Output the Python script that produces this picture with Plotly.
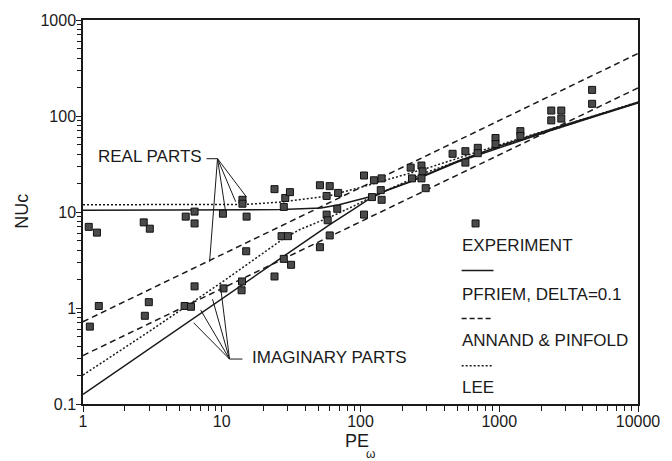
import plotly.graph_objects as go

# ---------------- data ----------------
# Experiment (real parts)
exp_re_pe = [1.1, 1.26, 2.74, 3.03, 5.5, 6.37, 6.37, 10.2, 14.1, 14.1, 15.1,
             24, 28.7, 31, 28, 51, 60, 57, 69, 68, 57, 58,
             106, 125, 142, 140, 121, 142, 230, 275, 280, 275, 235,
             461, 570, 700, 700, 940, 940, 1420, 1420, 2370, 2800, 4670]
exp_re_nu = [7.0, 6.1, 7.8, 6.7, 8.95, 10.1, 7.6, 9.6, 13.4, 12.2, 8.95,
             17.3, 14.0, 16.1, 11.3, 19.0, 18.6, 14.7, 15.8, 10.8, 9.4, 8.2,
             24.0, 21.4, 22.4, 16.9, 14.3, 13.4, 29.0, 30.5, 26.5, 22.4, 22.4,
             40.4, 43.0, 46.6, 41.0, 59.0, 51.0, 69.5, 62.0, 114, 114, 187]
# Experiment (imaginary parts)
exp_im_pe = [1.12, 1.3, 2.98, 2.79, 5.4, 6.0, 6.37, 10.3, 14.0, 13.9, 15.0,
             24, 28, 31.6, 27, 30, 51, 60, 106, 295, 570, 2370, 2800, 4670]
exp_im_nu = [0.64, 1.05, 1.15, 0.83, 1.05, 1.03, 1.68, 1.6, 1.89, 1.53, 3.9,
             2.13, 3.25, 2.82, 5.6, 5.6, 4.3, 5.7, 9.4, 17.7, 32.7, 90, 94, 134]

# Pfriem, delta = 0.1 (solid)
pfr_re_pe = [1, 10, 27, 52, 70, 115, 224, 500, 1000, 2260, 5000, 10000]
pfr_re_nu = [10.4, 10.5, 10.6, 11.0, 11.9, 14.3, 20.4, 33.1, 46.6, 69.5, 100, 137]
pfr_im_pe = [1, 10, 30, 60, 90, 115, 160, 224, 500, 1000, 2260, 5000, 10000]
pfr_im_nu = [0.126, 1.25, 3.75, 7.4, 10.8, 13.6, 17.2, 20.6, 33.8, 48.5, 71.5, 101, 138]

# Annand & Pinfold (dashed)
ann_pe = [1, 10, 100, 1000, 10000]
ann_re_nu = [0.72, 3.6, 18.0, 90.0, 448]
ann_im_nu = [0.32, 1.59, 7.9, 39.6, 196]

# Lee (dotted)
lee_re_pe = [1, 10, 15, 27, 59, 102, 168, 300, 1000, 2370, 5000, 10000]
lee_re_nu = [11.9, 11.9, 12.0, 12.7, 14.7, 18.2, 22.4, 28.5, 50, 73, 102, 140]
lee_im_pe = [1, 3, 10, 28, 36, 62, 90, 115, 168, 300, 1000, 2370, 5000, 10000]
lee_im_nu = [0.2, 0.57, 1.85, 5.3, 6.5, 9.0, 11.6, 13.9, 17.8, 26.0, 47.5, 71, 101, 139]

x_ticks = [1, 10, 100, 1000, 10000]
x_ticktext = ["1", "10", "100", "1000", "10000"]
y_ticks = [0.1, 1, 10, 100, 1000]
y_ticktext = ["0.1", "1", "10", "100", "1000"]

legend_labels = ["EXPERIMENT", "PFRIEM, DELTA=0.1", "ANNAND & PINFOLD", "LEE"]

# leader-line anchor points (data coordinates)
real_apex = (9.32, 35.9)
real_tick = (7.77, 35.9)
real_targets = [(8.17, 3.03), (10.6, 10.6), (12.6, 12.8), (15.1, 14.3)]
imag_apex = (11.37, 0.294)
imag_tick = (14.1, 0.294)
imag_targets = [(6.27, 0.702), (7.04, 0.954), (8.58, 1.236), (9.8, 1.68)]

# ---------------- figure ----------------
FONT = "Liberation Sans, Arial, Helvetica, sans-serif"
INK = "#1a1a1a"
fig = go.Figure()

def curve(x, y, dash):
    fig.add_trace(go.Scatter(x=x, y=y, mode="lines",
                             line=dict(color=INK, width=1.5, dash=dash),
                             hoverinfo="skip", showlegend=False))

curve(pfr_re_pe, pfr_re_nu, "solid")
curve(pfr_im_pe, pfr_im_nu, "solid")
curve(ann_pe, ann_re_nu, "6px,4px")
curve(ann_pe, ann_im_nu, "6px,4px")
curve(lee_re_pe, lee_re_nu, "2px,2px")
curve(lee_im_pe, lee_im_nu, "2px,2px")

marker_style = dict(symbol="square", size=7, color="#4a4a4a",
                    line=dict(color="#111111", width=1))
fig.add_trace(go.Scatter(x=exp_re_pe + exp_im_pe, y=exp_re_nu + exp_im_nu,
                         mode="markers", marker=marker_style,
                         showlegend=False, name="EXPERIMENT"))

# leader lines
lx, ly = [real_tick[0], real_apex[0], None], [real_tick[1], real_apex[1], None]
for tx, ty in real_targets:
    lx += [real_apex[0], tx, None]
    ly += [real_apex[1], ty, None]
lx += [imag_tick[0], imag_apex[0], None]
ly += [imag_tick[1], imag_apex[1], None]
for tx, ty in imag_targets:
    lx += [imag_apex[0], tx, None]
    ly += [imag_apex[1], ty, None]
fig.add_trace(go.Scatter(x=lx, y=ly, mode="lines", line=dict(color=INK, width=1),
                         hoverinfo="skip", showlegend=False))

# legend symbol for experiment
fig.add_trace(go.Scatter(x=[675], y=[7.6], mode="markers", marker=marker_style,
                         hoverinfo="skip", showlegend=False))

L, R, T, B = 83, 32, 13, 57
W, H = 672, 461
pw, ph = W - L - R, H - T - B

def px(xp):
    return (xp - L) / pw

def py(yp):
    return (H - B - yp) / ph

annotations = []
def text(s, x, y, size=17, xanchor="left", angle=0):
    annotations.append(dict(text=s, x=x, y=y, xref="paper", yref="paper",
                            xanchor=xanchor, yanchor="middle", showarrow=False,
                            textangle=angle, font=dict(family=FONT, size=size, color=INK)))

text("REAL PARTS", px(204), py(152), xanchor="right")
text("IMAGINARY PARTS", px(251), py(357))
text(legend_labels[0], px(461), py(243))
text(legend_labels[1], px(461), py(292))
text(legend_labels[2], px(461), py(339))
text(legend_labels[3], px(461), py(387))
text("PE", px(358), py(442), size=18, xanchor="center")
text("ω", px(372), py(455), size=12, xanchor="center")
text("NUc", px(21), py(208), size=18, xanchor="center", angle=-90)

shapes = []
for yp, dash in [(268, "solid"), (317, "5px,3px"), (365, "2px,2px")]:
    shapes.append(dict(type="line", xref="paper", yref="paper",
                       x0=px(463), x1=px(495), y0=py(yp), y1=py(yp),
                       line=dict(color=INK, width=1.5, dash=dash)))

minor_x = [m * 10 ** d for d in range(0, 4) for m in range(2, 10)]
minor_y = [m * 10 ** d for d in range(-1, 3) for m in range(2, 10)]

axis_common = dict(type="log", showgrid=False, zeroline=False, showline=True,
                   linecolor=INK, linewidth=1.5, mirror=True, ticks="outside",
                   tickwidth=1, tickcolor=INK,
                   tickfont=dict(family=FONT, size=16, color=INK))

fig.update_xaxes(range=[0, 4], tickvals=x_ticks, ticktext=x_ticktext,
                 ticklen=6, ticklabelstandoff=-4,
                 minor=dict(tickvals=minor_x, ticks="outside", ticklen=5,
                            tickwidth=1, tickcolor=INK),
                 **axis_common)
fig.update_yaxes(range=[-1, 3], tickvals=y_ticks, ticktext=y_ticktext,
                 ticklen=5, ticklabelstandoff=-3,
                 minor=dict(tickvals=minor_y, ticks="outside", ticklen=4,
                            tickwidth=1, tickcolor=INK),
                 **axis_common)

fig.update_layout(width=W, height=H, margin=dict(l=L, r=R, t=T, b=B),
                  paper_bgcolor="white", plot_bgcolor="white",
                  font=dict(family=FONT, size=16, color=INK),
                  showlegend=False, annotations=annotations, shapes=shapes)

fig.write_html("out.html")
